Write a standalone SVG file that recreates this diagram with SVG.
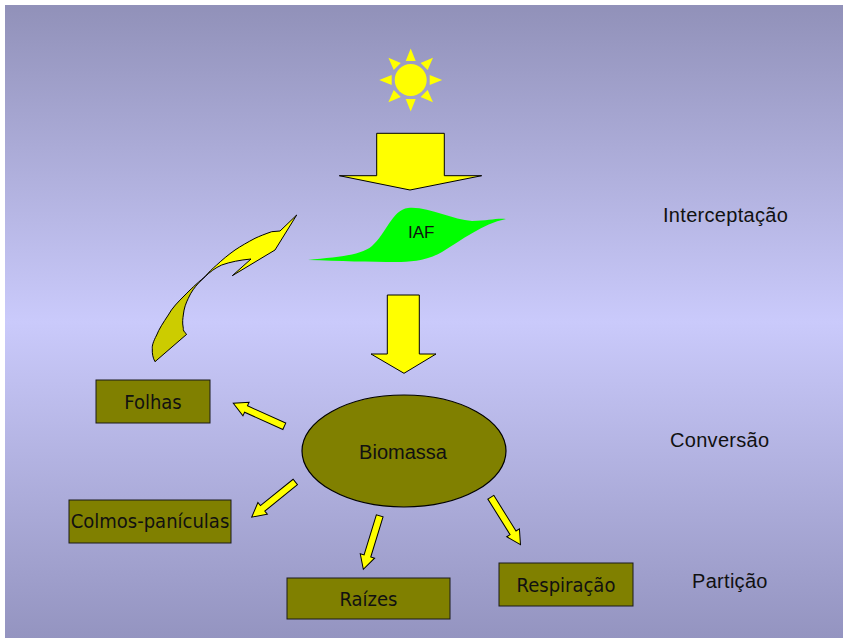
<svg xmlns="http://www.w3.org/2000/svg" xmlns:xlink="http://www.w3.org/1999/xlink" width="843" height="638" viewBox="0 0 843 638">
  <defs>
    <linearGradient id="bg" x1="0" y1="0" x2="0" y2="1">
      <stop offset="0" stop-color="#9191b9"/>
      <stop offset="0.5" stop-color="#cacafb"/>
      <stop offset="1" stop-color="#9494c0"/>
    </linearGradient>
    <polygon id="ray" points="0,-31.5 -5,-19 5,-19"/>
    <polygon id="sarrow" points="0,-3.5 42,-3.5 42,-7.5 56,0 42,7.5 42,3.5 0,3.5"/>
    <style>
      .box { fill: #808000; stroke: #1a1a1a; stroke-width: 1; }
      .btxt { font-family: "DejaVu Sans Condensed", "DejaVu Sans", sans-serif; font-size: 20px; fill: #111; text-anchor: middle; }
      .lbl { font-family: "Liberation Sans", Arial, sans-serif; font-size: 20px; fill: #111; letter-spacing: 0.3px; }
      .yel { fill: #ffff00; stroke: #000; stroke-width: 1; stroke-linejoin: miter; }
      .sun { fill: #ffff00; }
    </style>
  </defs>

  <rect x="0" y="0" width="843" height="638" fill="#ffffff"/>
  <rect x="5" y="5" width="838" height="633" fill="url(#bg)"/>

  <g id="sun" class="sun">
    <circle cx="410.7" cy="80" r="16"/>
    <use xlink:href="#ray" transform="translate(410.7,80)"/>
    <use xlink:href="#ray" transform="translate(410.7,80) rotate(45)"/>
    <use xlink:href="#ray" transform="translate(410.7,80) rotate(90)"/>
    <use xlink:href="#ray" transform="translate(410.7,80) rotate(135)"/>
    <use xlink:href="#ray" transform="translate(410.7,80) rotate(180)"/>
    <use xlink:href="#ray" transform="translate(410.7,80) rotate(225)"/>
    <use xlink:href="#ray" transform="translate(410.7,80) rotate(270)"/>
    <use xlink:href="#ray" transform="translate(410.7,80) rotate(315)"/>
  </g>

  <g id="arrow-light">
    <polygon class="yel" points="376.7,133.3 444.3,133.3 444.3,175.7 481.7,175.7 410,190 339.3,175.7 376.7,175.7"/>
  </g>

  <g id="iaf">
    <path fill="#00ff00" d="M308,260 C335,257 360,256 372,246 C386,234 392,210 408,208 C428,206 452,220 472,221 C488,221 496,218 506,219 C482,224 462,240 442,252 C426,261 410,262 396,262 C370,262 340,261 308,260 Z"/>
    <text x="408" y="238" font-family="Liberation Sans, Arial, sans-serif" font-size="17" fill="#111">IAF</text>
  </g>

  <g id="curved-arrow">
    <path fill="#cccc00" stroke="#000" stroke-width="1" d="M205,276.7 C196,284 190,290 185,295 C178,302 172,308 168.3,315 C163,323 159,329 156.7,335 C153,342 152,346 152.3,348.3 C152,354 153,358 155,361.7 L186.7,334.3 C184,332 183,330 183.3,328.3 C182,322 183,318 183.3,315 C184,308 186,303 188.3,298.3 C191,292 195,287 198.3,283.3 Z"/>
    <path fill="#ffff00" stroke="#000" stroke-width="1" d="M205,276.7 C210,272 215,268 221.7,265 C230,262 240,260 251,259 L232.3,275.7 L275,250 L296.7,215 L280,231 L271.7,231.7 C265,234 260,236 255,238.3 C248,242 241,246 235,250 C228,255 222,260 216.7,265 C212,269 208,273 205,276.7 Z"/>
  </g>

  <g id="arrow-conversion">
    <polygon class="yel" points="387.3,295 419.3,295 419.3,354 436,354 404,373.3 371,354 387.3,354"/>
  </g>

  <g id="biomassa">
    <ellipse cx="404" cy="451" rx="102" ry="56" fill="#808000" stroke="#000" stroke-width="1.2"/>
    <text x="403" y="459" font-family="Liberation Sans, Arial, sans-serif" font-size="20" fill="#111" text-anchor="middle">Biomassa</text>
  </g>

  <g id="folhas">
    <rect class="box" x="96" y="380" width="114" height="43"/>
    <text class="btxt" x="153" y="409">Folhas</text>
  </g>

  <g id="colmos">
    <rect class="box" x="69" y="500" width="162" height="43"/>
    <text class="btxt" x="150" y="528">Colmos-panículas</text>
  </g>

  <g id="raizes">
    <rect class="box" x="287" y="578" width="163" height="41"/>
    <text class="btxt" x="368.5" y="606">Raízes</text>
  </g>

  <g id="respiracao">
    <rect class="box" x="499" y="563" width="134" height="43"/>
    <text class="btxt" x="566" y="592">Respiração</text>
  </g>

  <g id="connectors" class="yel">
    <use xlink:href="#sarrow" transform="translate(284.3,426.3) rotate(204.3)"/>
    <use xlink:href="#sarrow" transform="translate(295.3,482) rotate(141.1)"/>
    <use xlink:href="#sarrow" transform="translate(379.7,515.8) rotate(107)"/>
    <use xlink:href="#sarrow" transform="translate(490.8,497.2) rotate(58)"/>
  </g>

  <g id="labels">
    <text class="lbl" x="663" y="222">Interceptação</text>
    <text class="lbl" x="670" y="447">Conversão</text>
    <text class="lbl" x="692" y="588">Partição</text>
  </g>
</svg>
